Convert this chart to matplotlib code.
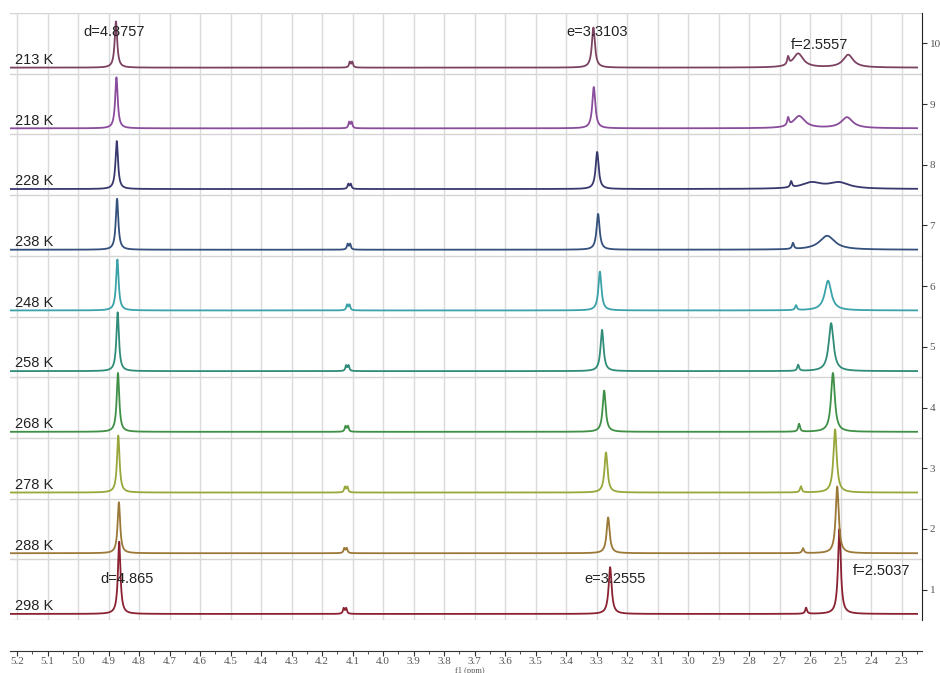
import matplotlib.pyplot as plt
import numpy as np

# stacked variable-temperature 1H spectra, bottom (298 K) to top (213 K)
temps = ['298 K', '288 K', '278 K', '268 K', '258 K', '248 K', '238 K', '228 K', '218 K', '213 K']
colors = ['#8a2232', '#9a7838', '#98a63a', '#3f9046', '#2f8c78', '#3aa2a8',
          '#34507c', '#38386e', '#8a4c9c', '#7c4262']

# peak d
d_pos = [4.865, 4.866, 4.868, 4.869, 4.870, 4.871, 4.872, 4.873, 4.874, 4.8757]
d_h = [1.19, 0.84, 0.94, 0.97, 0.97, 0.84, 0.84, 0.79, 0.84, 0.76]
# small doublet near 4.1 ppm
dbl_pos = [4.125, 4.123, 4.121, 4.119, 4.117, 4.114, 4.112, 4.110, 4.107, 4.105]
dbl_h = [0.09, 0.08, 0.09, 0.09, 0.09, 0.09, 0.09, 0.08, 0.10, 0.09]
# peak e
e_pos = [3.2555, 3.262, 3.269, 3.275, 3.282, 3.289, 3.295, 3.298, 3.309, 3.3103]
e_h = [0.77, 0.59, 0.66, 0.68, 0.68, 0.64, 0.59, 0.61, 0.68, 0.66]
# small peak left of f
s_pos = [2.613, 2.623, 2.630, 2.636, 2.639, 2.646, 2.656, 2.662, 2.672, 2.672]
s_h = [0.10, 0.08, 0.10, 0.13, 0.10, 0.08, 0.10, 0.10, 0.13, 0.13]
# peak f (splits into two broad lines at low temperature)
f_pos = [2.5037, 2.511, 2.518, 2.525, 2.531, 2.541, 2.544, 2.595, 2.636, 2.639]
f_h = [1.40, 1.10, 1.04, 0.97, 0.79, 0.49, 0.23, 0.10, 0.20, 0.23]
f_w = [0.011, 0.012, 0.013, 0.015, 0.019, 0.026, 0.060, 0.080, 0.045, 0.040]
f2_pos = [2.5, 2.5, 2.5, 2.5, 2.5, 2.5, 2.5, 2.505, 2.479, 2.475]
f2_h = [0, 0, 0, 0, 0, 0, 0, 0.10, 0.18, 0.21]
f2_w = [0.01, 0.01, 0.01, 0.01, 0.01, 0.01, 0.01, 0.080, 0.045, 0.040]

labels_top = [('d=4.8757', 4.882, 10.18), ('e=3.3103', 3.298, 10.18), ('f=2.5557', 2.570, 9.98)]
labels_bot = [('d=4.865', 4.839, 1.18), ('e=3.2555', 3.239, 1.18), ('f=2.5037', 2.364, 1.31)]


def lorentz(x, x0, h, w):
    return h / (1 + ((x - x0) / (w / 2)) ** 2)


ppm = np.linspace(5.223, 2.249, 8000)

fig = plt.figure(figsize=(9.4, 6.73), dpi=100)
ax = fig.add_axes([10 / 940, 53 / 673, 912 / 940, 607 / 673])

# separators between the stacked spectra
for k in range(11):
    ax.axhline(k + 0.5, color='#d4d4d4', lw=1, zorder=1)

for i in range(len(temps)):
    base = i + 1 - 0.40
    y = (lorentz(ppm, d_pos[i], d_h[i], 0.010)
         + lorentz(ppm, dbl_pos[i] - 0.004, dbl_h[i], 0.006)
         + lorentz(ppm, dbl_pos[i] + 0.004, dbl_h[i], 0.006)
         + lorentz(ppm, e_pos[i], e_h[i], 0.012)
         + lorentz(ppm, s_pos[i], s_h[i], 0.007)
         + lorentz(ppm, f_pos[i], f_h[i], f_w[i])
         + lorentz(ppm, f2_pos[i], f2_h[i], f2_w[i]))
    ax.plot(ppm, base + y, color=colors[i], lw=1.3, zorder=3)
    ax.text(5.207, base + 0.06, temps[i], fontsize=10.5, family='Liberation Sans',
            color='#222222', ha='left', va='baseline', zorder=4)

for txt, x, y in labels_top + labels_bot:
    ax.text(x, y, txt, fontsize=10.5, family='Liberation Sans', color='#222222',
            ha='center', va='center', zorder=4)

ax.set_xlim(5.223, 2.233)
ax.set_ylim(0.5, 10.5)
major = np.round(np.arange(2.3, 5.21, 0.1), 1)
ax.set_xticks(major)
ax.set_xticks(np.round(np.arange(2.25, 5.21, 0.05), 2), minor=True)
ax.set_xticklabels(['%.1f' % t for t in major])
ax.grid(axis='x', which='major', color='#dadada', lw=1, zorder=0)

ax.yaxis.tick_right()
ax.set_yticks(range(1, 11))
ax.spines['left'].set_visible(False)
ax.spines['top'].set_visible(False)
ax.spines['right'].set_color('#222222')
ax.spines['bottom'].set_position(('outward', 22))
ax.spines['bottom'].set_color('#333333')

ax.tick_params(axis='x', which='major', direction='out', length=3.5, pad=1.5,
               labelsize=8, labelcolor='#555555', color='#333333')
ax.tick_params(axis='x', which='minor', direction='out', length=2, color='#333333')
ax.tick_params(axis='y', direction='out', length=3.5, pad=2,
               labelsize=8, labelcolor='#555555', color='#333333')
for lab in ax.get_xticklabels() + ax.get_yticklabels():
    lab.set_family('Liberation Serif')

ax.set_xlabel('f1 (ppm)', fontsize=6, family='Liberation Serif', color='#555555',
              va='center')
ax.xaxis.set_label_coords(0.504, -0.0835)

fig.savefig('out.png', dpi=100)
